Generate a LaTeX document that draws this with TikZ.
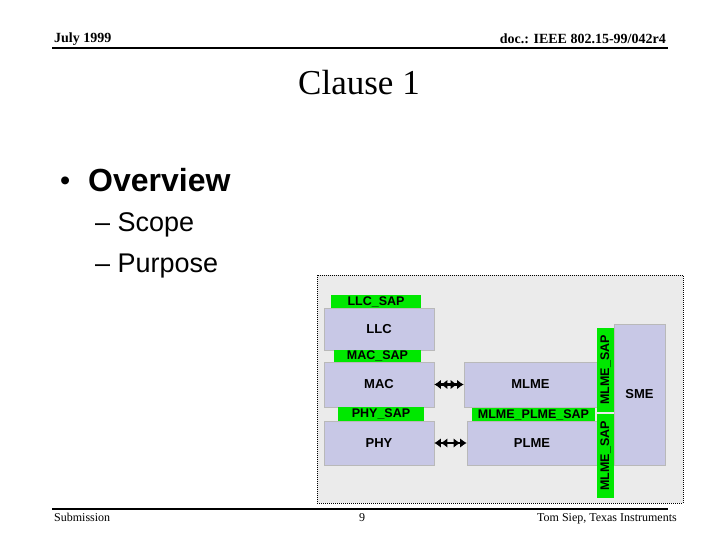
\documentclass[tikz,border=0pt]{standalone}
\usepackage{fontspec}
\setmainfont{Liberation Serif}
\newfontfamily\arialfont{Liberation Sans}
\usetikzlibrary{arrows.meta,positioning}

\definecolor{boxfill}{RGB}{200,200,230}
\definecolor{sapgreen}{RGB}{0,232,0}
\definecolor{panelgray}{RGB}{235,235,235}

\begin{document}
\begin{tikzpicture}[x=1pt, y=-1pt,
    every node/.style={inner sep=0pt},
    hdr/.style={font=\fontsize{14}{16}\selectfont\bfseries},
    ftr/.style={font=\fontsize{12}{14}\selectfont},
    blk/.style={rectangle, fill=boxfill, draw=gray!55, line width=0.6pt,
                font=\arialfont\fontsize{13}{15}\selectfont\bfseries},
    sap/.style={rectangle, fill=sapgreen, draw=none,
                font=\arialfont\fontsize{12.5}{14}\selectfont\bfseries},
    e/.style={{Latex[length=6.5pt,width=9.5pt]Latex[length=6.5pt,width=9.5pt]}-{Latex[length=6.5pt,width=9.5pt]Latex[length=6.5pt,width=9.5pt]},
              line width=2.4pt},
  ]
  \useasboundingbox (0,0) rectangle (720,540);
  \fill[white] (0,0) rectangle (720,540);

  % header and footer
  \node[hdr, anchor=base west] (date) at (54, 43) {July 1999};
  \node[hdr, anchor=base east] (docno) at (666, 44) {doc.: IEEE 802.15-99/042r4};
  \draw[line width=2pt] (52, 48) -- (668, 48);
  \node[anchor=base, font=\fontsize{35}{40}\selectfont] (title) at (359, 95) {Clause 1};
  \draw[line width=2pt] (52, 509) -- (668, 509);
  \node[ftr, anchor=base west] (sub) at (54, 521) {Submission};
  \node[ftr, anchor=base] (pgno) at (362, 521) {9};
  \node[ftr, anchor=base east] (author) at (677, 521) {Tom Siep, Texas Instruments};

  % bullets
  \node[anchor=base west, font=\arialfont\fontsize{29}{32}\selectfont] (dot) at (60, 191) {\textbullet};
  \node[anchor=base west, font=\arialfont\fontsize{32}{36}\selectfont\bfseries] (overview) at (88, 192) {Overview};
  \node[anchor=base west, font=\arialfont\fontsize{27}{32}\selectfont] (scope) at (95, 232) {\textendash\ Scope};
  \node[anchor=base west, font=\arialfont\fontsize{27}{32}\selectfont] (purpose) at (95, 272) {\textendash\ Purpose};

  % panel
  \draw[fill=panelgray, densely dotted, line width=1pt] (317, 275) rectangle (683, 503);

  \node[blk, minimum width=110pt, minimum height=42pt] (llc) at (379, 329) {LLC};
  \node[blk, minimum width=110pt, minimum height=45pt] (mac) at (379, 384.5) {MAC};
  \node[blk, minimum width=110pt, minimum height=44pt] (phy) at (379, 443) {PHY};
  \node[blk, minimum width=133pt, minimum height=45pt] (mlme) at (530.5, 384.5) {MLME};
  \node[blk, minimum width=130pt, minimum height=44pt] (plme) at (532, 443) {PLME};
  \node[blk, minimum width=51pt, minimum height=141pt] (sme) at (639.5, 394.5) {SME};

  \node[sap, minimum width=90pt, minimum height=13pt] (llcsap) at (376, 301.5) {LLC\_SAP};
  \node[sap, minimum width=87pt, minimum height=12pt] (macsap) at (377.5, 356) {MAC\_SAP};
  \node[sap, minimum width=86pt, minimum height=14pt] (physap) at (381, 414) {PHY\_SAP};
  \node[sap, minimum width=123pt, minimum height=13pt] (plmesap) at (533.5, 414.5) {MLME\_PLME\_SAP};
  \node[sap, rotate=90, minimum width=84pt, minimum height=17pt] (mlmesapa) at (605.5, 370) {MLME\_SAP};
  \node[sap, rotate=90, minimum width=84pt, minimum height=17pt] (mlmesapb) at (605.5, 456) {MLME\_SAP};

  \draw[e] (mac) -- (mlme);
  \draw[e] (phy) -- (plme);
\end{tikzpicture}
\end{document}
